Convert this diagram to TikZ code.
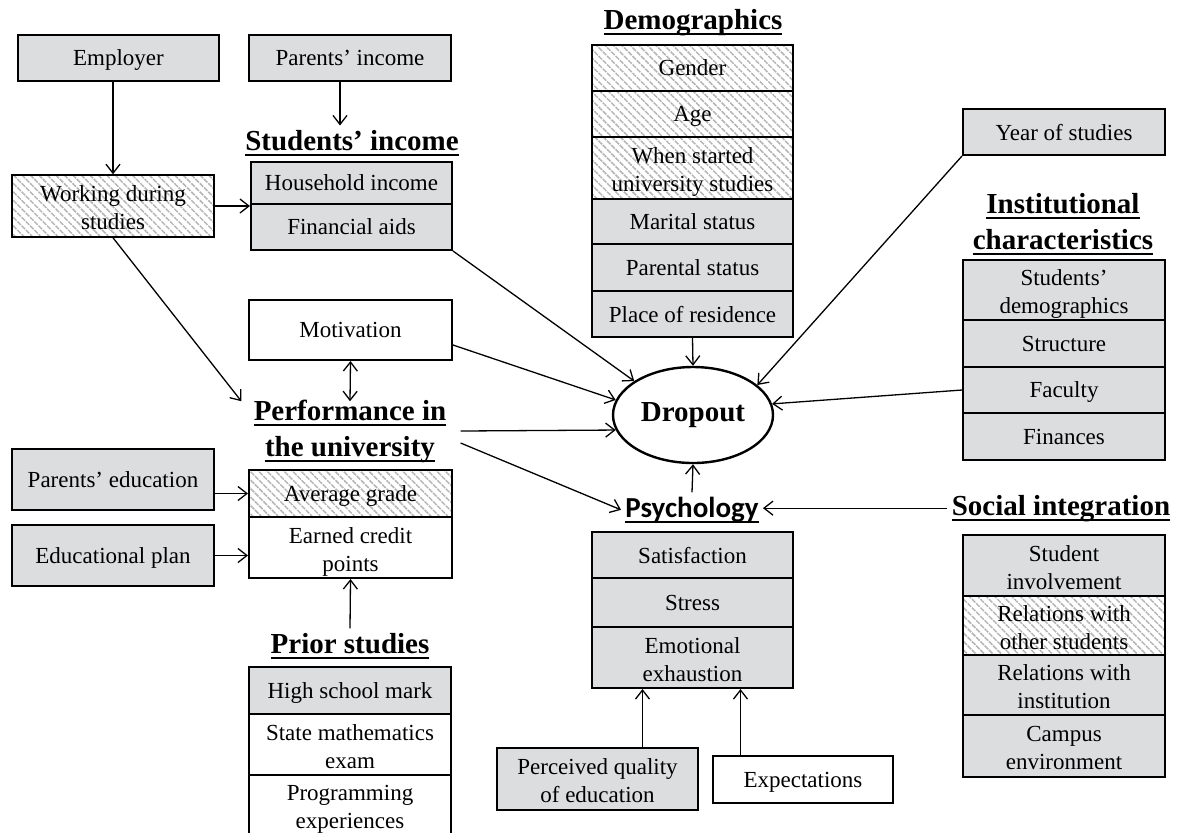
\documentclass[tikz,border=0pt]{standalone}
\usepackage{fontspec}
\setmainfont{Liberation Serif}
\newfontfamily\carlito{Carlito}
\usetikzlibrary{shapes.geometric,arrows.meta,patterns.meta}
\definecolor{boxgray}{HTML}{DCDDDF}
\definecolor{hatchgray}{HTML}{B4B4B4}
\newsavebox\ulbox
\newcommand\myul[1]{\sbox\ulbox{#1}\rlap{\rule[-3pt]{\wd\ulbox}{0.9pt}}\usebox\ulbox}
\newcommand\bodysize{\fontsize{11.5}{14}\selectfont}
\newcommand\titlesize{\fontsize{14.5}{18}\selectfont\bfseries}
\newcommand\twol[2]{\begin{tabular}[b]{@{}c@{}}#1\\#2\end{tabular}}
\begin{document}
\begin{tikzpicture}[x=0.5pt,y=-0.5pt,
  sz/.style 2 args={minimum width=#1*0.5pt, minimum height=#2*0.5pt},
  cell/.style={draw, line width=1pt, inner sep=0pt, align=center, text depth=0pt, font=\bodysize},
  gcell/.style={cell, fill=boxgray},
  wcell/.style={cell, fill=white},
  hcell/.style={cell, pattern={Lines[angle=-45,distance=3pt,line width=0.75pt]}, pattern color=hatchgray,
     postaction={pattern={Lines[angle=45,distance=3pt,line width=0.4pt]}, pattern color=white},
     postaction={draw, line width=1pt}},
  ttl/.style={inner sep=2pt, align=center, font=\titlesize},
  arr/.style={line width=0.65pt, -{Straight Barb[length=4.5pt,width=7pt]}},
  darr/.style={line width=0.65pt, {Straight Barb[length=4.5pt,width=7pt]}-{Straight Barb[length=4.5pt,width=7pt]}},
]
\useasboundingbox (0,0) rectangle (1183,832);

% top left
\node[gcell, sz={201}{46}] (emp) at (118.5,58) {Employer};
\node[gcell, sz={202}{46}] (pinc) at (350,58) {Parents’ income};
\node[hcell, sz={202}{62}] (work) at (113,206) {\twol{Working during}{studies}};
\node[ttl, anchor=base] (sinct) at (352,150) {\myul{Students’ income}};
\node[gcell, sz={201}{42}] (hh) at (351.5,183) {Household income};
\node[gcell, sz={201}{46}] (fin) at (351.5,227) {Financial aids};

% demographics
\node[ttl, anchor=base] (demt) at (693,29) {\myul{Demographics}};
\node[hcell, sz={201}{46}] (gen) at (692.5,68) {Gender};
\node[hcell, sz={201}{46}] (age) at (692.5,114) {Age};
\node[hcell, sz={201}{62}] (when) at (692.5,168) {\twol{When started}{university studies}};
\node[gcell, sz={201}{45}] (mar) at (692.5,221.5) {Marital status};
\node[gcell, sz={201}{47}] (par) at (692.5,267.5) {Parental status};
\node[gcell, sz={201}{46}] (place) at (692.5,314) {Place of residence};

% right
\node[gcell, sz={202}{46}] (year) at (1064,132) {Year of studies};
\node[ttl] (instt) at (1063,224) {\myul{Institutional}\\\myul{characteristics}};
\node[gcell, sz={202}{60}] (sdem) at (1064,290) {\twol{Students’}{demographics}};
\node[gcell, sz={202}{47}] (struc) at (1064,343.5) {Structure};
\node[gcell, sz={202}{46}] (fac) at (1064,390) {Faculty};
\node[gcell, sz={202}{47}] (finc) at (1064,436.5) {Finances};

% middle left
\node[wcell, sz={203}{60}] (mot) at (350.5,330) {Motivation};
\node[ttl] (perft) at (350,431) {\myul{Performance in}\\\myul{the university}};
\node[hcell, sz={203}{47}] (avg) at (350.5,493.5) {Average grade};
\node[wcell, sz={203}{61}] (earn) at (350.5,547.5) {\twol{Earned credit}{points}};
\node[gcell, sz={202}{61}] (pedu) at (113,479.5) {Parents’ education};
\node[gcell, sz={202}{61}] (eplan) at (113,555.5) {Educational plan};
\node[ttl, anchor=base] (priort) at (350,653) {\myul{Prior studies}};
\node[gcell, sz={202}{47}] (hsm) at (350,690.5) {High school mark};
\node[wcell, sz={202}{61}] (sme) at (350,744.5) {\twol{State mathematics}{exam}};
\node[wcell, sz={202}{65}] (prog) at (350,807.5) {\raisebox{3pt}{\twol{Programming}{experiences}}};

% dropout
\node[draw, ellipse, line width=1.2pt, minimum width=80pt, minimum height=48pt, inner sep=0pt, font=\titlesize] (drop) at (693,415) {Dropout};

% psychology
\node[ttl, font=\fontsize{14.5}{18}\selectfont\carlito\bfseries, anchor=base] (psyt) at (692,517) {\myul{Psychology}};
\node[gcell, sz={201}{46}] (sat) at (692.5,555) {Satisfaction};
\node[gcell, sz={201}{49}] (stress) at (692.5,602.5) {Stress};
\node[gcell, sz={201}{61}] (emo) at (692.5,657.5) {\twol{Emotional}{exhaustion}};
\node[gcell, sz={201}{62}] (perc) at (597.5,779) {\twol{Perceived quality}{of education}};
\node[wcell, sz={180}{47}] (expt) at (803,779.5) {Expectations};

% social integration
\node[ttl, anchor=base] (soct) at (1061,515) {\myul{Social integration}};
\node[gcell, sz={202}{61}] (sinv) at (1064,565.5) {\twol{Student}{involvement}};
\node[hcell, sz={202}{59}] (rels) at (1064,625.5) {\twol{Relations with}{other students}};
\node[gcell, sz={202}{60}] (reli) at (1064,685) {\twol{Relations with}{institution}};
\node[gcell, sz={202}{62}] (camp) at (1064,746) {\twol{Campus}{environment}};

% connectors
\draw[arr] (emp.south -| work.north) -- (work.north);
\draw[arr] ([xshift=-5pt]pinc.south) -- ([xshift=-5pt]pinc.south |- sinct.north);
\draw[arr] (work.east) -- (work.east -| hh.west);
\draw[arr] (fin.south east) -- (drop.150);
\draw[arr] (work.south) -- ([xshift=-4pt,yshift=-3pt]perft.north west);
\draw[darr] (mot.south) -- ([yshift=-3pt]perft.north);
\draw[arr] ([yshift=-7.5pt]mot.east) -- (drop.169);
\draw[arr] (place.south) -- (drop.north);
\draw[arr] (year.south west) -- (drop.25);
\draw[arr] (fac.west) -- (drop.8);
\draw[arr] ([xshift=5pt]perft.east) -- (drop.191);
\draw[arr] ([xshift=5pt,yshift=-6pt]perft.east) -- (psyt.west);
\draw[arr] (psyt.north) -- (drop.south);
\draw[arr] (soct.west) -- (soct.west -| psyt.east);
\draw[arr] (avg.west -| pedu.east) -- (avg.west);
\draw[arr] (eplan.east) -- (eplan.east -| earn.west);
\draw[arr] (priort.north) -- (earn.south);
\draw[arr] ([xshift=-25pt]emo.south |- perc.north) -- ([xshift=-25pt]emo.south);
\draw[arr] ([xshift=24pt]emo.south |- expt.north) -- ([xshift=24pt]emo.south);
\end{tikzpicture}
\end{document}
